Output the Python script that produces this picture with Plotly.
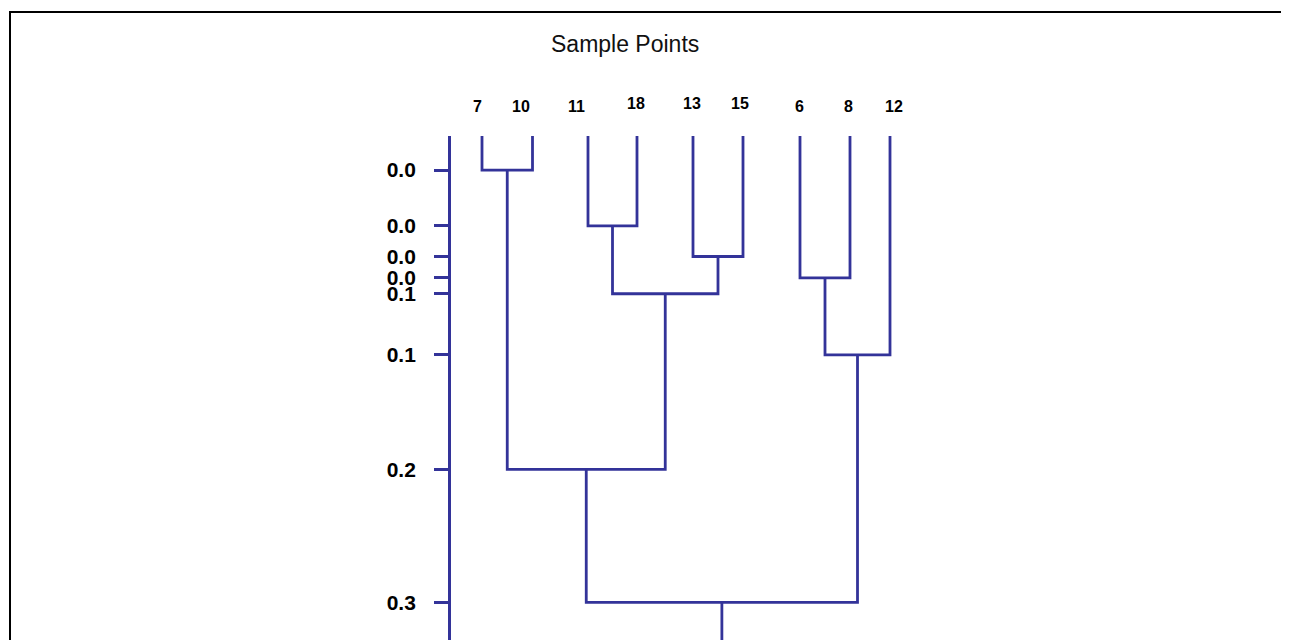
import plotly.graph_objects as go

# Leaves in drawing order and their positions along the x axis (units of ~50 px)
leaves = ["7", "10", "11", "18", "13", "15", "6", "8", "12"]
leaf_pos = [0.66, 1.67, 2.78, 3.76, 4.88, 5.88, 7.02, 8.02, 8.82]

# Merges: (left child, right child, height); children < 9 are leaves, >= 9 earlier merges
merge_left = [0, 2, 4, 6, 10, 12, 9, 15]
merge_right = [1, 3, 5, 7, 11, 8, 13, 14]
merge_height = [0.000, 0.042, 0.065, 0.081, 0.093, 0.139, 0.225, 0.325]

# Tick labels as printed on the axis, one per merge height
tick_text = ["0.0", "0.0", "0.0", "0.0", "0.1", "0.1", "0.2", "0.3"]

LINE = "#333399"
FONT = "Arial, Liberation Sans"
W, H = 1289, 640
OFF = 8  # the page body adds an 8 px margin; pull everything back by that much

Y_TOP = -0.0256
Y_BOTTOM = Y_TOP + (H - (136 - OFF)) / 1330

n = len(leaves)
node_x = list(leaf_pos)
node_h = [Y_TOP] * n

xs, ys = [], []
for a, b, h in zip(merge_left, merge_right, merge_height):
    xa, xb = node_x[a], node_x[b]
    xs += [xa, xa, xb, xb, None]
    ys += [node_h[a], h, h, node_h[b], None]
    node_x.append((xa + xb) / 2)
    node_h.append(h)

# root stem runs to the bottom of the frame
xs += [node_x[-1], node_x[-1], None]
ys += [node_h[-1], Y_BOTTOM, None]

fig = go.Figure()
fig.add_trace(go.Scatter(
    x=xs, y=ys, mode="lines",
    line=dict(color=LINE, width=2.8),
    hoverinfo="skip", showlegend=False,
))

# leaf labels (small nudges to match the printed layout)
label_dx = [-5, -12, -12, -1, -1, -3, -1, -2, 4]
label_dy = [0, 0, 0, 3, 3, 3, 0, 0, 0]
for name, x, dx, dy in zip(leaves, leaf_pos, label_dx, label_dy):
    fig.add_annotation(
        x=x, y=1 - (107 - OFF) / H, xref="x", yref="paper",
        xanchor="center", yanchor="middle",
        text=name, showarrow=False, xshift=dx, yshift=dy,
        font=dict(family=FONT, size=16, color="black", weight="bold"),
    )

fig.add_annotation(
    x=(625 - OFF) / W, y=1 - (44 - OFF) / H, xref="paper", yref="paper",
    xanchor="center", yanchor="middle",
    text="Sample Points", showarrow=False,
    font=dict(family=FONT, size=23, color="#111111"),
)

# page frame
fig.add_shape(
    type="rect", xref="paper", yref="paper",
    x0=(10 - OFF) / W, x1=1.05, y0=-0.05, y1=1 - (12 - OFF) / H,
    line=dict(color="black", width=2), fillcolor="rgba(0,0,0,0)",
)

fig.update_layout(
    width=W, height=H,
    margin=dict(l=0, r=0, t=0, b=0),
    paper_bgcolor="white", plot_bgcolor="white",
    xaxis=dict(
        domain=[0, 1], range=[-(449 - OFF) / 50, (W - 449 + OFF) / 50],
        visible=False, fixedrange=True,
    ),
    yaxis=dict(
        domain=[0, 1 - (136 - OFF) / H], range=[Y_BOTTOM, Y_TOP],
        anchor="free", position=(449 - OFF) / W, side="left",
        showgrid=False, zeroline=False,
        showline=True, linecolor=LINE, linewidth=2.8,
        ticks="outside", ticklen=14, tickwidth=2.8, tickcolor=LINE,
        tickvals=merge_height, ticktext=tick_text,
        ticklabelstandoff=14,
        tickfont=dict(family=FONT, size=21, color="black", weight="bold"),
        fixedrange=True,
    ),
)

fig.write_html("out.html")
